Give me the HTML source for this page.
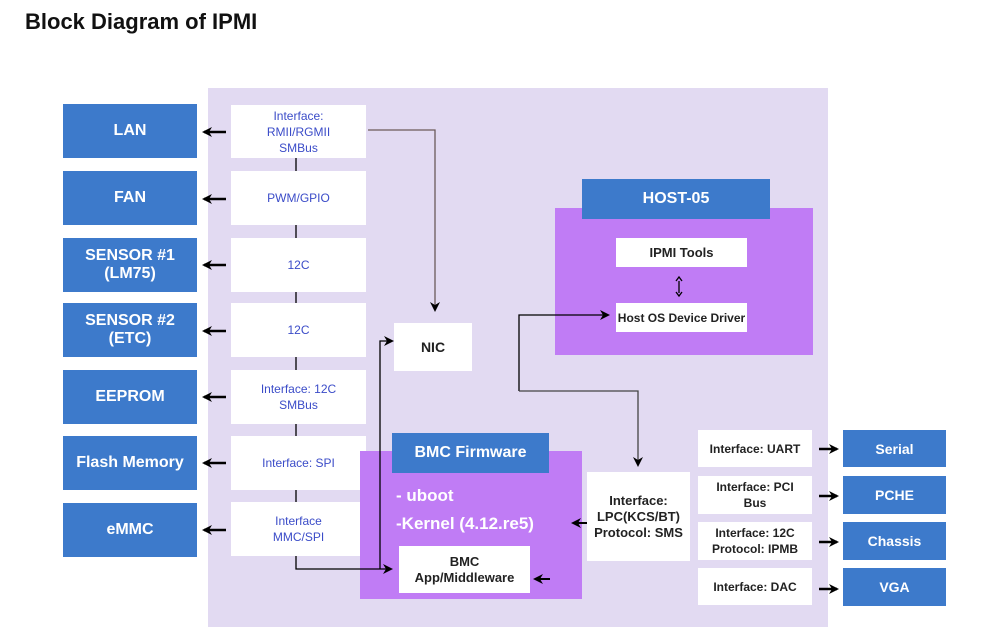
<!DOCTYPE html>
<html><head><style>
body{margin:0;width:982px;height:636px;background:#fff;position:relative;overflow:hidden;font-family:"Liberation Sans",sans-serif}
.a{position:absolute;display:flex;align-items:center;justify-content:center;text-align:center;box-sizing:border-box}
.bl{background:#3d7acb;color:#fff;font-size:16px;font-weight:bold}
.w{background:#fff;color:#3b4cc8;font-size:12px;line-height:16px}
.k{background:#fff;color:#222;font-size:13px;line-height:16px;font-weight:bold}
.p{background:#c07cf5}
</style></head><body>
<div style="position:absolute;left:25px;top:9px;font-size:22px;font-weight:bold;color:#111">Block Diagram of IPMI</div>
<div class="a" style="left:208px;top:88px;width:620px;height:539px;background:#e2daf2"></div>

<div class="a bl" style="left:63px;top:104px;width:134px;height:54px">LAN</div>
<div class="a bl" style="left:63px;top:171px;width:134px;height:54px">FAN</div>
<div class="a bl" style="left:63px;top:238px;width:134px;height:54px;line-height:18px">SENSOR #1<br>(LM75)</div>
<div class="a bl" style="left:63px;top:303px;width:134px;height:54px;line-height:18px">SENSOR #2<br>(ETC)</div>
<div class="a bl" style="left:63px;top:370px;width:134px;height:54px">EEPROM</div>
<div class="a bl" style="left:63px;top:436px;width:134px;height:54px">Flash Memory</div>
<div class="a bl" style="left:63px;top:503px;width:134px;height:54px">eMMC</div>

<div class="a w" style="left:231px;top:105px;width:135px;height:53px">Interface:<br>RMII/RGMII<br>SMBus</div>
<div class="a w" style="left:231px;top:171px;width:135px;height:54px">PWM/GPIO</div>
<div class="a w" style="left:231px;top:238px;width:135px;height:54px">12C</div>
<div class="a w" style="left:231px;top:303px;width:135px;height:54px">12C</div>
<div class="a w" style="left:231px;top:370px;width:135px;height:54px">Interface: 12C<br>SMBus</div>
<div class="a w" style="left:231px;top:436px;width:135px;height:54px">Interface: SPI</div>
<div class="a w" style="left:231px;top:502px;width:135px;height:54px">Interface<br>MMC/SPI</div>

<div class="a k" style="left:394px;top:323px;width:78px;height:48px;font-size:14px">NIC</div>

<div class="a p" style="left:555px;top:208px;width:258px;height:147px"></div>
<div class="a bl" style="left:582px;top:179px;width:188px;height:40px">HOST-05</div>
<div class="a k" style="left:616px;top:238px;width:131px;height:29px">IPMI Tools</div>
<div class="a k" style="left:616px;top:303px;width:131px;height:29px;font-size:12px">Host OS Device Driver</div>

<div class="a p" style="left:360px;top:451px;width:222px;height:148px"></div>
<div class="a bl" style="left:392px;top:433px;width:157px;height:40px">BMC Firmware</div>
<div style="position:absolute;left:396px;top:482px;color:#fff;font-size:17px;line-height:28px;font-weight:bold">- uboot<br>-Kernel (4.12.re5)</div>
<div class="a k" style="left:399px;top:546px;width:131px;height:47px">BMC<br>App/Middleware</div>

<div class="a k" style="left:587px;top:472px;width:103px;height:89px">Interface:<br>LPC(KCS/BT)<br>Protocol: SMS</div>
<div class="a k" style="left:698px;top:430px;width:114px;height:37px;font-size:12px">Interface: UART</div>
<div class="a k" style="left:698px;top:476px;width:114px;height:38px;font-size:12px">Interface: PCI<br>Bus</div>
<div class="a k" style="left:698px;top:522px;width:114px;height:38px;font-size:12px">Interface: 12C<br>Protocol: IPMB</div>
<div class="a k" style="left:698px;top:568px;width:114px;height:37px;font-size:12px">Interface: DAC</div>
<div class="a bl" style="left:843px;top:430px;width:103px;height:37px;font-size:14px">Serial</div>
<div class="a bl" style="left:843px;top:476px;width:103px;height:38px;font-size:14px">PCHE</div>
<div class="a bl" style="left:843px;top:522px;width:103px;height:38px;font-size:14px">Chassis</div>
<div class="a bl" style="left:843px;top:568px;width:103px;height:38px;font-size:14px">VGA</div>

<svg width="982" height="636" style="position:absolute;left:0;top:0">
<defs><marker id="m" markerWidth="10" markerHeight="10" refX="8" refY="5" orient="auto" markerUnits="userSpaceOnUse"><path d="M0,0L10,5L0,10L3,5z" fill="#000"/></marker></defs>
<g stroke="#000" stroke-width="1.3" fill="none">
<line x1="296" y1="158" x2="296" y2="171"/><line x1="296" y1="225" x2="296" y2="238"/><line x1="296" y1="292" x2="296" y2="303"/><line x1="296" y1="357" x2="296" y2="370"/><line x1="296" y1="424" x2="296" y2="436"/><line x1="296" y1="490" x2="296" y2="502"/>
<polyline points="296,556 296,569 391,569" marker-end="url(#m)"/>
<polyline points="380,569 380,341 392,341" marker-end="url(#m)"/>
<polyline points="368,130 435,130 435,310" stroke="#6b5a5a" marker-end="url(#m)"/>
<polyline points="519,391 519,315 608,315" marker-end="url(#m)"/>
<polyline points="519,391 638,391 638,465" stroke="#444" marker-end="url(#m)"/>
<line x1="587" y1="523" x2="573" y2="523" stroke-width="2" marker-end="url(#m)"/>
<line x1="550" y1="579" x2="535" y2="579" stroke-width="2" marker-end="url(#m)"/>
<line x1="679" y1="281" x2="679" y2="293"/><path d="M676,281L679,277L682,281M676,292L679,296L682,292" stroke-width="1.3"/>
</g>
<g stroke="#000" stroke-width="2.5" fill="none">
<line x1="226" y1="132" x2="204" y2="132" marker-end="url(#m)"/><line x1="226" y1="199" x2="204" y2="199" marker-end="url(#m)"/><line x1="226" y1="265" x2="204" y2="265" marker-end="url(#m)"/><line x1="226" y1="331" x2="204" y2="331" marker-end="url(#m)"/><line x1="226" y1="397" x2="204" y2="397" marker-end="url(#m)"/><line x1="226" y1="463" x2="204" y2="463" marker-end="url(#m)"/><line x1="226" y1="530" x2="204" y2="530" marker-end="url(#m)"/>
<line x1="819" y1="449" x2="837" y2="449" marker-end="url(#m)"/><line x1="819" y1="496" x2="837" y2="496" marker-end="url(#m)"/><line x1="819" y1="542" x2="837" y2="542" marker-end="url(#m)"/><line x1="819" y1="589" x2="837" y2="589" marker-end="url(#m)"/>
</g>
</svg>
</body></html>
